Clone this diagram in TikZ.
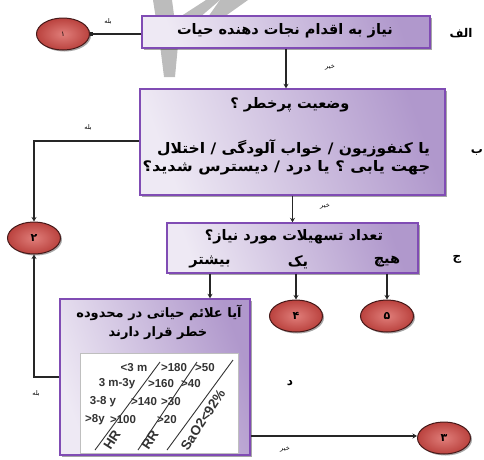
\documentclass[tikz,border=0pt]{standalone}
\usepackage{fontspec}
\setmainfont{Liberation Sans}
\newfontfamily\fa[Script=Arabic]{DejaVu Sans}
\TeXXeTstate=1
\usetikzlibrary{shapes.geometric,arrows.meta,shadows,calc}
\definecolor{boxline}{RGB}{128,76,180}
\definecolor{boxlight}{RGB}{238,233,244}
\definecolor{boxdark}{RGB}{176,152,204}
\definecolor{ellin}{RGB}{224,126,122}
\definecolor{ellout}{RGB}{186,66,62}
\definecolor{ellline}{RGB}{70,25,25}
\definecolor{wm}{RGB}{188,188,188}
\tikzset{
  flowbox/.style={draw=boxline, line width=1.4pt, left color=boxlight, right color=boxdark,
    shading angle=110, drop shadow={shadow xshift=2pt, shadow yshift=-2pt, opacity=0.35, fill=black},
    inner sep=0pt},
  endell/.style={ellipse, draw=ellline, line width=1pt, inner color=ellin, outer color=ellout,
    drop shadow={shadow xshift=1.5pt, shadow yshift=-1.5pt, opacity=0.35, fill=black},
    minimum width=53pt, minimum height=32pt, inner sep=0pt,
    font=\fa\bfseries\fontsize{11}{12}\selectfont},
  fatext/.style={inner sep=0pt, font=\fa\bfseries\fontsize{14.5}{16}\selectfont},
  fasmall/.style={inner sep=0pt, font=\fa\bfseries\fontsize{13}{15}\selectfont},
  tinylab/.style={inner sep=1pt, font=\fa\fontsize{6.5}{7}\selectfont},
  sidelab/.style={inner sep=0pt, font=\fa\bfseries\fontsize{12}{14}\selectfont},
  conn/.style={line width=1.7pt, draw=black!85},
  tip/.style={-{Stealth[length=4.5pt,width=5pt]}},
  tbltext/.style={inner sep=0pt, text=black!80, font=\bfseries\fontsize{11.5}{13}\selectfont},
  rottext/.style={inner sep=0pt, text=black!80, rotate=57, font=\bfseries\fontsize{13.5}{15}\selectfont},
  tblline/.style={line width=0.9pt, draw=black!80}
}
\begin{document}
\begin{tikzpicture}[x=1pt,y=-1pt]
\useasboundingbox (0,0) rectangle (484,459);
% watermark
\fill[wm] (153,0) -- (172,0) -- (178,45) -- (175,77) -- (164,77) -- (160,45) -- cycle;
\fill[wm] (172,22) -- (206,0) -- (220,0) -- (178,36) -- cycle;
\fill[wm] (220,0) -- (248,0) -- (224,17) -- (208,17) -- cycle;

% boxes
\node[flowbox, minimum width=288pt, minimum height=32pt] (A) at (286,32) {};
\node[fatext] (At) at (285,31) {\beginR نیاز به اقدام نجات دهنده حیات\endR};

\node[flowbox, minimum width=305pt, minimum height=106pt] (B) at (292.5,142) {};
\node[fatext] (B1) at (290,105) {\beginR وضعیت پرخطر ؟\endR};
\node[fatext] (B2) at (293.5,148) {\scalebox{1.07}[1]{\beginR یا کنفوزیون / خواب آلودگی / اختلال\endR}};
\node[fatext] (B3) at (286.5,168) {\scalebox{1.12}[1]{\beginR جهت یابی ؟ یا درد / دیسترس شدید؟\endR}};

\node[flowbox, minimum width=251pt, minimum height=50pt] (C) at (292.5,248) {};
\node[fatext] (C1) at (294,237) {\beginR تعداد تسهیلات مورد نیاز؟\endR};
\node[fatext] (C2) at (210,262) {\beginR بیشتر\endR};
\node[fatext] (C3) at (298,262) {\beginR یک\endR};
\node[fatext] (C4) at (387,262) {\beginR هیچ\endR};

\node[flowbox, minimum width=190pt, minimum height=156pt] (D) at (155,377) {};
\node[fasmall] (D1) at (159,313) {\beginR آیا علائم حیاتی در محدوده\endR};
\node[fasmall] (D2) at (158,333) {\beginR خطر قرار دارند\endR};

% table
\node[draw=black!25, line width=0.5pt, fill=white, minimum width=158pt, minimum height=100pt, inner sep=0pt] (T) at (159,403) {};
\node[tbltext] (t11) at (134,368) {<3 m};
\node[tbltext] (t12) at (174,368) {>180};
\node[tbltext] (t13) at (205,368) {>50};
\node[tbltext] (t21) at (117,384) {3 m-3y};
\node[tbltext] (t22) at (161,384) {>160};
\node[tbltext] (t23) at (191,384) {>40};
\node[tbltext] (t31) at (103,402) {3-8 y};
\node[tbltext] (t32) at (144,402) {>140};
\node[tbltext] (t33) at (171,402) {>30};
\node[tbltext] (t41) at (95,420) {>8y};
\node[tbltext] (t42) at (123,420) {>100};
\node[tbltext] (t43) at (167,420) {>20};
\draw[tblline] (95,450) -- (160,362);
\draw[tblline] (138,450) -- (197,362);
\draw[tblline] (167,450) -- (233,360);
\node[rottext] (hr) at (112,440) {HR};
\node[rottext] (rr) at (150,440) {RR};
\node[rottext] (sa) at (203,420) {SaO2<92\%};

% end ellipses
\node[endell, font=\fa\fontsize{7}{8}\selectfont] (e1) at (63,34) {\beginR ۱\endR};
\node[endell] (e2) at (34,238) {\beginR ۲\endR};
\node[endell] (e4) at (296,316) {\beginR ۴\endR};
\node[endell] (e5) at (387,316) {\beginR ۵\endR};
\node[endell] (e3) at (444,438) {\beginR ۳\endR};

% side labels
\node[sidelab] (la) at (461,33) {\beginR الف\endR};
\node[sidelab] (lb) at (477,152) {\beginR ب\endR};
\node[sidelab] (lc) at (457,259) {\beginR ج\endR};
\node[sidelab] (ld) at (290,383) {\beginR د\endR};

% connectors
\draw[conn, -{Square[length=3pt,width=4pt]}] (A.west |- e1.east) -- (e1.east);
\draw[conn, tip] (A.south) -- (A.south |- B.north);
\draw[conn, tip] (B.west |- 0,141) -- (e2.north |- 0,141) -- (e2.north);
\draw[conn, tip] (B.south) -- (B.south |- C.north);
\coordinate (cD) at ([xshift=-82.5pt]C.south);
\draw[conn, tip] (cD) -- (cD |- D.north);
\draw[conn, tip] (e4.north |- C.south) -- (e4.north);
\draw[conn, tip] (e5.north |- C.south) -- (e5.north);
\draw[conn, tip] (D.west) -- (e2.south |- D.west) -- (e2.south);
\draw[conn, tip] (D.east |- 0,436) -- (e3.west |- 0,436);

% yes/no labels
\node[tinylab] (y1) at (108,22) {\beginR بله\endR};
\node[tinylab] (n1) at (330,68) {\beginR خیر\endR};
\node[tinylab] (y2) at (88,127) {\beginR بله\endR};
\node[tinylab] (n2) at (325,207) {\beginR خیر\endR};
\node[tinylab] (y3) at (36,393) {\beginR بله\endR};
\node[tinylab] (n3) at (285,450) {\beginR خیر\endR};
\end{tikzpicture}
\end{document}
